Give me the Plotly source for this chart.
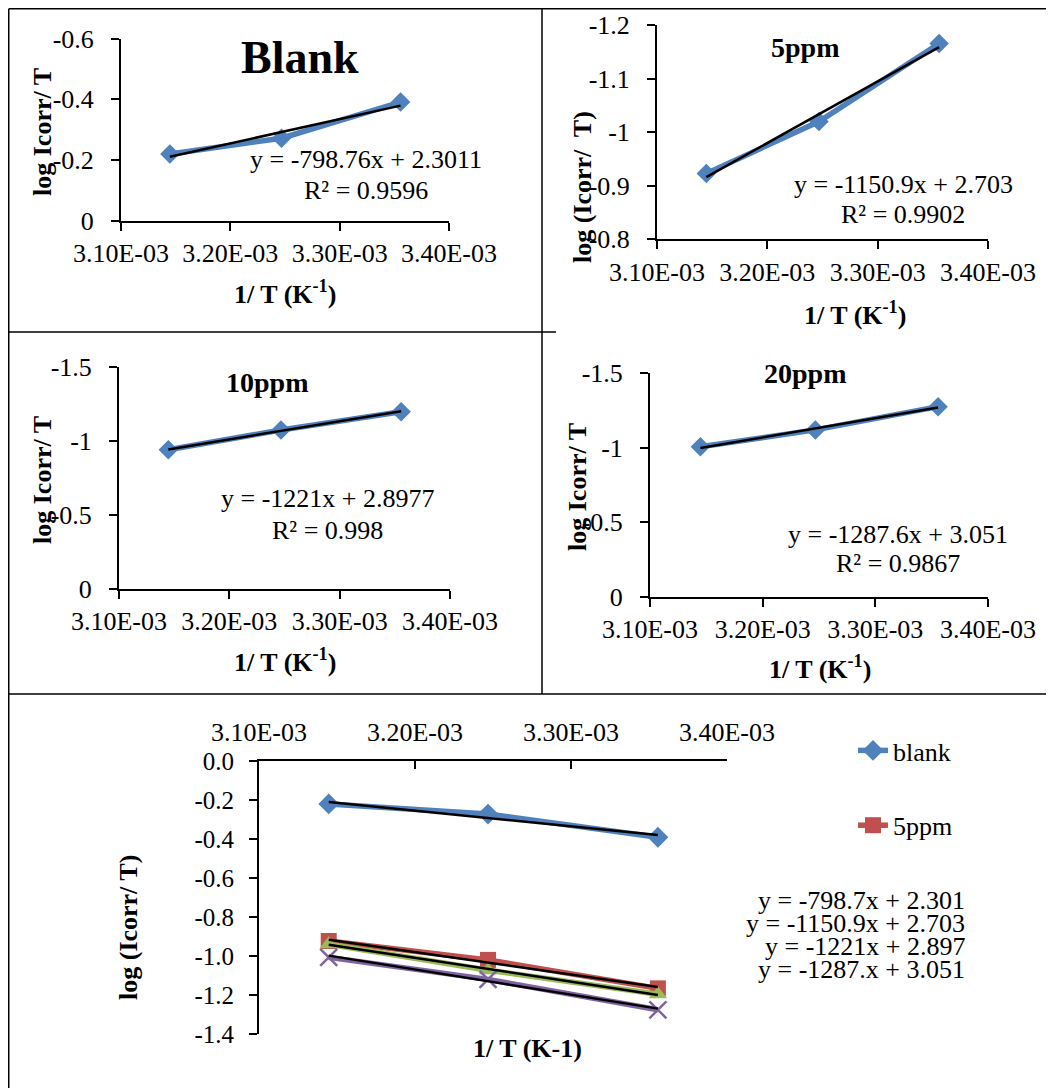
import numpy as np
import plotly.graph_objects as go

# ---------------- data ----------------
inv_T = [3.1447e-3, 3.2468e-3, 3.3557e-3]
x_tick_vals = [3.10e-3, 3.20e-3, 3.30e-3, 3.40e-3]
x_tick_text = ["3.10E-03", "3.20E-03", "3.30E-03", "3.40E-03"]

blank = [-0.220, -0.272, -0.391]
ppm5 = [-0.923, -1.020, -1.166]
ppm10 = [-0.940, -1.073, -1.196]
ppm20 = [-1.007, -1.120, -1.276]

slopes = [-798.76, -1150.9, -1221.0, -1287.6]
intercepts = [2.3011, 2.703, 2.8977, 3.051]
eq_labels = ["y = -798.76x + 2.3011", "y = -1150.9x + 2.703",
             "y = -1221x + 2.8977", "y = -1287.6x + 3.051"]
r2_labels = ["R² = 0.9596", "R² = 0.9902", "R² = 0.998", "R² = 0.9867"]
combined_eq_labels = ["y = -798.7x + 2.301", "y = -1150.9x + 2.703",
                      "y = -1221x + 2.897", "y = -1287.x + 3.051"]
panel_titles = ["Blank", "5ppm", "10ppm", "20ppm"]
series_names = ["blank", "5ppm", "10ppm", "20ppm"]

yt_blank = [0, -0.2, -0.4, -0.6]
yt_blank_text = ["0", "-0.2", "-0.4", "-0.6"]
yt_5 = [-0.8, -0.9, -1.0, -1.1, -1.2]
yt_5_text = ["-0.8", "-0.9", "-1", "-1.1", "-1.2"]
yt_10 = [0, -0.5, -1.0, -1.5]
yt_10_text = ["0", "-0.5", "-1", "-1.5"]
yt_comb = [0.0, -0.2, -0.4, -0.6, -0.8, -1.0, -1.2, -1.4]
yt_comb_text = ["0.0", "-0.2", "-0.4", "-0.6", "-0.8", "-1.0", "-1.2", "-1.4"]

# ---------------- layout helpers ----------------
W, H = 1054, 1088
OFF = 8  # page body margin
FW, FH = W - OFF, H - OFF
FONT = "Liberation Serif"
BLUE, RED, GREEN, PURPLE = "#4F81BD", "#C0504D", "#9BBB59", "#8064A2"


def px(x):
    return (x - OFF) / FW


def py(y):
    return 1 - (y - OFF) / FH


series = [blank, ppm5, ppm10, ppm20]
colors = [BLUE, RED, GREEN, PURPLE]
symbols = ["diamond", "square", "triangle-up", "x-thin"]
msizes = [16, 16, 16, 17]

# panel boxes in (page) pixels: (left, right, top, bottom)
panels = [
    dict(box=(121, 449, 38.7, 220.7), yr=[0, -0.6], tv=yt_blank, tt=yt_blank_text),
    dict(box=(657, 988, 25.3, 239.3), yr=[-0.8, -1.2], tv=yt_5, tt=yt_5_text),
    dict(box=(119, 450, 366.7, 589), yr=[0, -1.5], tv=yt_10, tt=yt_10_text),
    dict(box=(650, 988, 373.3, 596.7), yr=[0, -1.5], tv=yt_10, tt=yt_10_text),
    dict(box=(259, 727, 761, 1034), yr=[-1.4, 0.0], tv=yt_comb, tt=yt_comb_text),
]

fig = go.Figure()
x_fit = [min(inv_T), max(inv_T)]

# individual panels
for i in range(4):
    xa = "x" if i == 0 else f"x{i+1}"
    ya = "y" if i == 0 else f"y{i+1}"
    fig.add_trace(go.Scatter(
        x=inv_T, y=series[i], mode="lines+markers", xaxis=xa, yaxis=ya,
        line=dict(color=BLUE, width=5.5),
        marker=dict(symbol="diamond", size=15, color=BLUE),
        showlegend=False))
    y_fit = [slopes[i] * xv + intercepts[i] for xv in x_fit]
    fig.add_trace(go.Scatter(
        x=x_fit, y=y_fit, mode="lines", xaxis=xa, yaxis=ya,
        line=dict(color="black", width=2.5), showlegend=False))

# combined panel
for i in range(4):
    mk = dict(symbol=symbols[i], size=msizes[i], color=colors[i])
    if symbols[i] == "x-thin":
        mk["line"] = dict(color=colors[i], width=2.5)
    fig.add_trace(go.Scatter(
        x=inv_T, y=series[i], mode="lines+markers", xaxis="x5", yaxis="y5",
        name=series_names[i], line=dict(color=colors[i], width=5.5),
        marker=mk, legendgroup=series_names[i],
        showlegend=(i < 2)))
for i in range(4):
    y_fit = [slopes[i] * xv + intercepts[i] for xv in x_fit]
    fig.add_trace(go.Scatter(
        x=x_fit, y=y_fit, mode="lines", xaxis="x5", yaxis="y5",
        line=dict(color="black", width=2.5), showlegend=False))

layout = dict(
    width=FW, height=FH, margin=dict(l=0, r=0, t=0, b=0, autoexpand=False),
    paper_bgcolor="white", plot_bgcolor="rgba(0,0,0,0)",
    font=dict(family=FONT, color="black", size=24),
    legend=dict(x=px(853), y=py(727), xanchor="left", yanchor="top",
                font=dict(family=FONT, size=26, color="black"),
                tracegroupgap=38, bgcolor="rgba(0,0,0,0)",
                traceorder="grouped"),
)

for i, p in enumerate(panels):
    l, r, t, b = p["box"]
    xk = "xaxis" if i == 0 else f"xaxis{i+1}"
    yk = "yaxis" if i == 0 else f"yaxis{i+1}"
    xa = "x" if i == 0 else f"x{i+1}"
    ya = "y" if i == 0 else f"y{i+1}"
    combined = (i == 4)
    layout[xk] = dict(
        domain=[px(l), px(r)], anchor=ya, range=[3.10e-3, 3.40e-3],
        tickvals=x_tick_vals, ticktext=x_tick_text,
        showline=True, linecolor="black", linewidth=2,
        ticks="inside" if combined else "outside", ticklen=8, tickwidth=2,
        tickcolor="black", showgrid=False, zeroline=False,
        side="top" if combined else "bottom",
        tickfont=dict(family=FONT, size=26),
        ticklabelstandoff=8 if combined else 0,
        automargin=False, fixedrange=True)
    layout[yk] = dict(
        domain=[py(b), py(t)], anchor=xa, range=p["yr"],
        tickvals=p["tv"], ticktext=p["tt"],
        showline=True, linecolor="black", linewidth=2,
        ticks="outside", ticklen=8, tickwidth=2, tickcolor="black",
        showgrid=False, zeroline=False,
        tickfont=dict(family=FONT, size=26 if not combined else 25),
        ticklabelstandoff=12 if not combined else 10,
        automargin=False, fixedrange=True)

fig.update_layout(**layout)


def ann(text, x, y, size, angle=0, xanchor="center"):
    return dict(text=text, x=px(x), y=py(y), xref="paper", yref="paper",
                showarrow=False, textangle=angle, xanchor=xanchor,
                yanchor="middle",
                font=dict(family=FONT, size=size, color="black"))


annotations = []
# panel titles
annotations.append(ann("<b>" + panel_titles[0] + "</b>", 300, 58, 46))
annotations.append(ann("<b>" + panel_titles[1] + "</b>", 805, 48, 28))
annotations.append(ann("<b>" + panel_titles[2] + "</b>", 267, 382, 28))
annotations.append(ann("<b>" + panel_titles[3] + "</b>", 805, 373, 28))

# equations + R2
eq_pos = [(366, 160, 190), (903, 184, 215), (327, 498, 530), (898, 534, 563)]
for i, (cx, ye, yr) in enumerate(eq_pos):
    annotations.append(ann(eq_labels[i], cx, ye, 26))
    annotations.append(ann(r2_labels[i], cx, yr, 26))

# axis titles
xt = "<b>1/ T (K<sup>-1</sup>)</b>"
annotations.append(ann(xt, 285, 292, 26))
annotations.append(ann(xt, 855, 313, 26))
annotations.append(ann(xt, 285, 660, 26))
annotations.append(ann(xt, 820, 667, 26))
annotations.append(ann("<b>log Icorr/ T</b>", 42, 132, 26, angle=-90))
annotations.append(ann("<b>log (Icorr/  T)</b>", 582, 187, 26, angle=-90))
annotations.append(ann("<b>log Icorr/ T</b>", 42, 480, 26, angle=-90))
annotations.append(ann("<b>log Icorr/ T</b>", 577, 487, 26, angle=-90))
annotations.append(ann("<b>log (Icorr/ T)</b>", 128, 928, 26, angle=-90))
annotations.append(ann("<b>1/ T (K-1)</b>", 527, 1048, 26))

# combined equations
for i, yy in enumerate([900, 923, 946, 969]):
    annotations.append(ann(combined_eq_labels[i], 967, yy, 26, xanchor="right"))

fig.update_layout(annotations=annotations)

# panel border lines (page pixels; lines at the page edge are clamped inside)
border = dict(color="black", width=1.5)
lines = [
    (8.75, 8.75, 1054, 8.75),
    (8.75, 8.75, 8.75, 1088),
    (542, 8.75, 542, 694),
    (8.75, 332, 556, 332),
    (8.75, 694, 1054, 694),
]
shapes = []
for x0, y0, x1, y1 in lines:
    shapes.append(dict(type="line", xref="paper", yref="paper",
                       x0=px(x0), y0=py(y0), x1=px(x1), y1=py(y1),
                       line=border))
fig.update_layout(shapes=shapes)

fig.write_html("out.html")
